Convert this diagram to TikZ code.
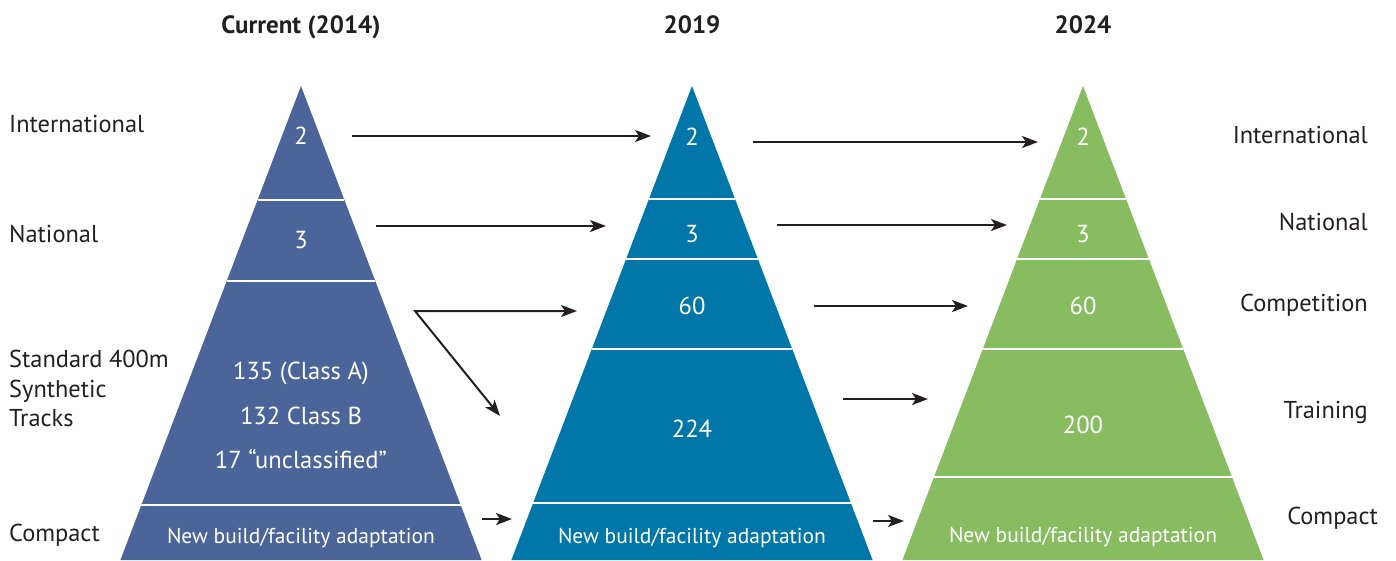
\documentclass[tikz,border=0pt]{standalone}
\usepackage{fontspec}
\setmainfont{PT Sans}
\usetikzlibrary{arrows.meta}
\definecolor{pyrA}{HTML}{4B6499}
\definecolor{pyrB}{HTML}{0077A8}
\definecolor{pyrC}{HTML}{88BC61}
\definecolor{ink}{HTML}{231F20}
\begin{document}
\begin{tikzpicture}[x=1pt, y=-1pt,
		lbl/.style={inner sep=0pt, text=ink, font=\fontsize{24.4}{29.5}\selectfont},
		num/.style={inner sep=0pt, text=white, anchor=base, font=\fontsize{24.6}{28}\selectfont},
		wide/.style={num, font=\fontsize{21.5}{26}\selectfont},
		ttl/.style={inner sep=0pt, text=ink, anchor=base, font=\fontsize{25}{30}\selectfont\bfseries},
		sep/.style={white, line width=2pt},
		arr/.style={ink, line width=2pt, -{Stealth[length=16pt, width=12pt, inset=4pt]}},
	]
	\useasboundingbox (0,0) rectangle (1396,560);

	% pyramids
	\foreach \cx/\col in {301/pyrA, 692/pyrB, 1083/pyrC}
		\fill[\col] (\cx,86) -- ({\cx+180.6},560) -- ({\cx-180.6},560) -- cycle;
	\foreach \cx/\yy in {301/200, 301/281, 301/505,
			692/199, 692/259, 692/349, 692/503,
			1083/199, 1083/259, 1083/349, 1083/477}
		\draw[sep] ({\cx-0.381*(\yy-86)},\yy) -- ({\cx+0.381*(\yy-86)},\yy);

	\node[ttl] (t0) at (301,33) {Current (2014)};
	\node[ttl] (t1) at (692,33) {2019};
	\node[ttl] (t2) at (1083,33) {2024};

	\node[lbl, anchor=base west] (l0) at (9,132) {International};
	\node[lbl, anchor=base west] (l1) at (9,242) {National};
	\node[lbl, anchor=north west, align=left] (l2) at (9,350) {Standard 400m\\ Synthetic\\ Tracks};
	\node[lbl, anchor=base west] (l3) at (9,541) {Compact};

	\node[lbl, anchor=base east] (r0) at (1368,143) {International};
	\node[lbl, anchor=base east] (r1) at (1368,230) {National};
	\node[lbl, anchor=base east] (r2) at (1368,311) {Competition};
	\node[lbl, anchor=base east] (r3) at (1368,418) {Training};
	\node[lbl, anchor=base east] (r4) at (1378,524) {Compact};

	\node[num] (a0) at (301,144) {2};
	\node[num] (a1) at (301,248) {3};
	\node[num] (a2) at (301,379) {135 (Class A)};
	\node[num] (a3) at (301,424) {132 Class B};
	\node[num] (a4) at (301,468) {17 “unclassified”};
	\node[wide] (a5) at (301,543) {New build/facility adaptation};

	\node[num] (b0) at (692,145) {2};
	\node[num] (b1) at (692,242) {3};
	\node[num] (b2) at (692,314) {60};
	\node[num] (b3) at (692,437) {224};
	\node[wide] (b4) at (692,543) {New build/facility adaptation};

	\node[num] (c0) at (1083,145) {2};
	\node[num] (c1) at (1083,242) {3};
	\node[num] (c2) at (1083,314) {60};
	\node[num] (c3) at (1083,433) {200};
	\node[wide] (c4) at (1083,542) {New build/facility adaptation};

	\coordinate (s0) at (352,136); \coordinate (e0) at (651,136);
	\coordinate (s1) at (376,226); \coordinate (e1) at (606,226);
	\coordinate (s2) at (415,311); \coordinate (e2) at (577,311);
	\coordinate (e3) at (500,416);
	\coordinate (s4) at (482,519); \coordinate (e4) at (512,519);

	\coordinate (u0) at (753,142); \coordinate (v0) at (1038,142);
	\coordinate (u1) at (777,225); \coordinate (v1) at (1007,225);
	\coordinate (u2) at (814,306); \coordinate (v2) at (968,306);
	\coordinate (u3) at (843,399); \coordinate (v3) at (928,399);
	\coordinate (u4) at (873,521); \coordinate (v4) at (904,521);

	\draw[arr] (s0) -- (e0);
	\draw[arr] (s1) -- (e1);
	\draw[arr, {Stealth[length=16pt, width=12pt, inset=4pt]}-{Stealth[length=16pt, width=12pt, inset=4pt]}] (e3) -- (s2) -- (e2);
	\draw[arr] (s4) -- (e4);

	\draw[arr] (u0) -- (v0);
	\draw[arr] (u1) -- (v1);
	\draw[arr] (u2) -- (v2);
	\draw[arr] (u3) -- (v3);
	\draw[arr] (u4) -- (v4);
\end{tikzpicture}
\end{document}
